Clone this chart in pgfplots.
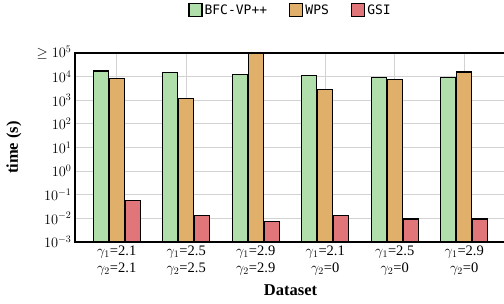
\documentclass[border=0pt]{standalone}
\usepackage{pgfplots}
\pgfplotsset{compat=1.18}
\usepackage{fontspec}
\setmainfont{Liberation Serif}
\newfontfamily\legmono{DejaVu Sans Mono}
\definecolor{cgreen}{RGB}{176,223,171}
\definecolor{corange}{RGB}{224,175,106}
\definecolor{cred}{RGB}{224,117,122}
\definecolor{cgrid}{RGB}{210,210,210}
\begin{document}
\begin{tikzpicture}
\begin{axis}[
  at={(75pt,61pt)}, anchor=south west,
  scale only axis, width=431pt, height=189pt,
  ymode=log, log basis y=10, log origin=infty, ymin=1e-3, ymax=1e5,
  xmin=-0.6, xmax=5.6,
  ybar=1pt, bar width=15pt,
  xtick={0,1,2,3,4,5},
  xticklabels={{$\gamma_1$=2.1\\$\gamma_2$=2.1},{$\gamma_1$=2.5\\$\gamma_2$=2.5},{$\gamma_1$=2.9\\$\gamma_2$=2.9},{$\gamma_1$=2.1\\$\gamma_2$=0},{$\gamma_1$=2.5\\$\gamma_2$=0},{$\gamma_1$=2.9\\$\gamma_2$=0}},
  xticklabel style={align=center, font=\fontsize{14.5}{17.5}\selectfont},
  ytick={1e-3,1e-2,1e-1,1,1e1,1e2,1e3,1e4,1e5},
  yticklabels={$10^{-3}$,$10^{-2}$,$10^{-1}$,$10^{0}$,$10^{1}$,$10^{2}$,$10^{3}$,$10^{4}$,$\geq 10^{5}$},
  yticklabel style={font=\fontsize{14}{16}\selectfont},
  minor ytick={},
  major tick length=0pt,
  grid=major, major grid style={draw=cgrid, line width=0.9pt},
  axis line style={line width=1.3pt},
  xlabel={\textbf{Dataset}},
  ylabel={\textbf{time (s)}},
  xlabel style={font=\fontsize{16.5}{18}\selectfont, at={([yshift=-48pt]axis description cs:0.5,0)}, anchor=center},
  ylabel style={font=\fontsize{16.5}{18}\selectfont, at={([xshift=-61pt]axis description cs:0,0.5)}, anchor=center},
  legend style={at={(0.5,1)}, anchor=center, yshift=43pt, draw=none, fill=none,
    legend columns=3, font=\legmono\fontsize{13}{15}\selectfont,
    /tikz/every even column/.append style={column sep=20pt}},
  legend image code/.code={\draw[#1, line width=1.3pt] (0pt,-6.5pt) rectangle (13pt,6.5pt);},
  every axis plot/.append style={draw=black, line width=1.4pt},
]
\addplot[fill=cgreen] coordinates {(0,17600) (1,15400) (2,12200) (3,11000) (4,9100) (5,9100)};
\addplot[fill=corange] coordinates {(0,8200) (1,1180) (2,1e5) (3,2900) (4,7400) (5,15800)};
\addplot[fill=cred] coordinates {(0,0.057) (1,0.013) (2,0.0072) (3,0.013) (4,0.0093) (5,0.0093)};
\legend{BFC-VP++,WPS,GSI}
\end{axis}
\pgfresetboundingbox
\useasboundingbox (0,0) rectangle (504pt,303pt);
\end{tikzpicture}
\end{document}
